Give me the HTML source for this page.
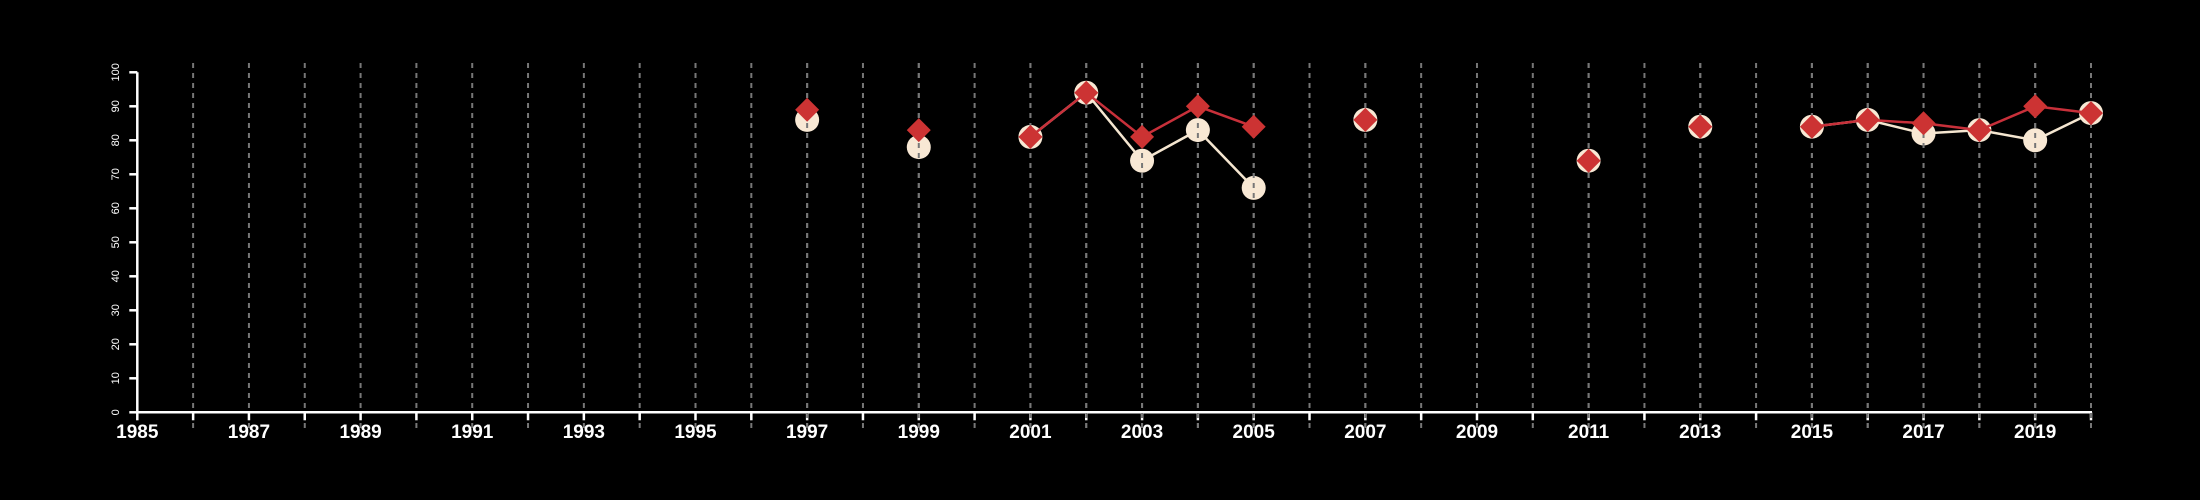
<!DOCTYPE html>
<html><head><meta charset="utf-8"><style>
html,body{margin:0;padding:0;background:#000;}
svg{display:block;}
</style></head><body>
<svg id="chart" width="2200" height="500" xmlns="http://www.w3.org/2000/svg">
<rect width="2200" height="500" fill="#000"/>
<g id="grid"></g>
<g id="axes"></g>
<g id="s1"></g>
<g id="gridover"></g>
<g id="s2"></g>
</svg>
<script>
const years = [1997,1999,2001,2002,2003,2004,2005,2007,2011,2013,2015,2016,2017,2018,2019,2020];
const circleValues = [86,78,81,94,74,83,66,86,74,84,84,86,82,83,80,88];
const diamondValues = [89,83,81,94,81,90,84,86,74,84,84,86,85,83,90,88];
const yTicks = [0,10,20,30,40,50,60,70,80,90,100];
const xTickLabels = [1985,1987,1989,1991,1993,1995,1997,1999,2001,2003,2005,2007,2009,2011,2013,2015,2017,2019];
const xMin = 1985, xMax = 2020;

const NS = "http://www.w3.org/2000/svg";
const X0 = 137.3, X1 = 2091, Y0 = 412.3, Y1 = 72.3;
const xs = v => X0 + (v - xMin) / (xMax - xMin) * (X1 - X0);
const ys = v => Y0 - v / 100 * (Y0 - Y1);
function mk(tag, attrs, parent){const e=document.createElementNS(NS,tag);for(const k in attrs)e.setAttribute(k,attrs[k]);parent.appendChild(e);return e;}
const grid=document.getElementById('grid'), axes=document.getElementById('axes');
const gridover=document.getElementById('gridover');
for(let y=xMin+1;y<=xMax;y++){
  const l=mk('line',{x1:xs(y),x2:xs(y),y1:63,y2:428,stroke:'#777','stroke-width':2,'stroke-dasharray':'5,5'},grid);
  
  
}
let ax=mk('line',{x1:X0,x2:X0,y1:Y1,y2:Y0+1,stroke:'#fff','stroke-width':2.5},axes);


ax=mk('line',{x1:X0-1,x2:X1+1,y1:Y0,y2:Y0,stroke:'#fff','stroke-width':2.5},axes);


yTicks.forEach(t=>{
  const l=mk('line',{x1:X0-8,x2:X0,y1:ys(t),y2:ys(t),stroke:'#fff','stroke-width':2.5},axes);
  
  
  const tx=mk('text',{x:0,y:0,transform:`translate(119,${ys(t)}) rotate(-90)`,'text-anchor':'middle',fill:'#fff','font-size':11,'font-family':'Liberation Sans, sans-serif'},axes);
  tx.textContent=t;
  
  
});
for(let y=xMin;y<=xMax;y++){
  const l=mk('line',{x1:xs(y),x2:xs(y),y1:Y0,y2:Y0+8,stroke:'#fff','stroke-width':2.5},axes);
  
  
}
xTickLabels.forEach(y=>{
  const tx=mk('text',{x:xs(y),y:438,'text-anchor':'middle',fill:'#fff','font-size':19,'font-weight':'bold','font-family':'Liberation Sans, sans-serif'},axes);
  tx.textContent=y;
  
  
});
function segments(vals){
  const segs=[];let cur=[];
  years.forEach((y,i)=>{
    if(i>0 && y-years[i-1]!==1){ if(cur.length>1)segs.push(cur); cur=[]; }
    cur.push([xs(y),ys(vals[i])]);
  });
  if(cur.length>1)segs.push(cur);
  return segs;
}
const s1=document.getElementById('s1'), s2=document.getElementById('s2');
segments(circleValues).forEach(sg=>{
  const p=mk('polyline',{points:sg.map(p=>p.join(',')).join(' '),fill:'none',stroke:'#f5e6d0','stroke-width':2.5},s1);
  
  
});
years.forEach((y,i)=>{
  const c=mk('circle',{cx:xs(y),cy:ys(circleValues[i]),r:12,fill:'#f8e8d4'},s1);
  
  
});
years.forEach(y=>{
  const l=mk('line',{x1:xs(y),x2:xs(y),y1:63,y2:428,stroke:'#777','stroke-width':2,'stroke-dasharray':'5,5'},gridover);
  
  
});
segments(diamondValues).forEach(sg=>{
  const p=mk('polyline',{points:sg.map(p=>p.join(',')).join(' '),fill:'none',stroke:'#c8303a','stroke-width':2.5},s2);
  
  
});
years.forEach((y,i)=>{
  const cx=xs(y),cy=ys(diamondValues[i]),r=12;
  const d=mk('polygon',{points:`${cx},${cy-r} ${cx+r},${cy} ${cx},${cy+r} ${cx-r},${cy}`,fill:'#cc3333'},s2);
  
  
});
</script>
</body></html>
